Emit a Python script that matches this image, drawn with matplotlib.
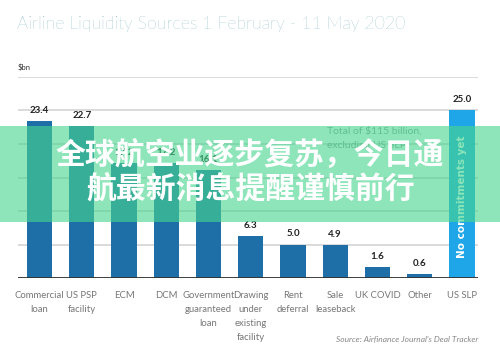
import matplotlib.pyplot as plt
from matplotlib.patches import Rectangle

categories = ["Commercial\nloan", "US PSP\nfacility", "ECM", "DCM",
              "Government\nguaranteed\nloan", "Drawing\nunder\nexisting\nfacility",
              "Rent\ndeferral", "Sale\nleaseback", "UK COVID", "Other", "US SLP"]
values = [23.4, 22.7, 17.2, 17.2, 16.1, 6.3, 5.0, 4.9, 1.6, 0.6, 25.0]
value_labels = ["23.4", "22.7", "17.2", "17.2", "16.1", "6.3", "5.0", "4.9", "1.6", "0.6", "25.0"]
bar_colors = ["#1e6fa8"] * 10 + ["#1ea6e8"]

fig = plt.figure(figsize=(5, 3.49), dpi=100)
ax = fig.add_axes([0.036, 0.2034, 0.92, 0.576])

x = list(range(len(categories)))
ax.bar(x, values, width=0.6, color=bar_colors, zorder=2)

for xi, v, lab in zip(x, values, value_labels):
    ax.text(xi, v + 0.9, lab, ha="center", va="bottom", fontsize=7,
            fontweight="bold", color="#222222", family="Lato")

ax.set_xlim(-0.51, 10.38)
ax.set_ylim(0, 30)
ax.set_yticks(range(0, 31, 5))
ax.yaxis.grid(True, color="#d4d4d4", linewidth=1.2, zorder=0)
ax.tick_params(left=False, labelleft=False, bottom=False)
for s in ax.spines.values():
    s.set_visible(False)
ax.axhline(0, color="#333333", linewidth=1.3, zorder=3)
ax.set_xticks(x)
ax.set_xticklabels(categories, fontsize=6.8, color="#777777", family="Lato",
                   linespacing=1.7)
ax.tick_params(axis="x", pad=6)

# note and bar text
ax.text(6.8, 22.6, "Total of $115 billion,\nexcluding US SLP", fontsize=7.5,
        color="#8a9a9a", family="Lato", va="top", linespacing=1.7)
ax.text(10, 12.1, "No commitments yet", rotation=90, ha="center", va="center",
        color="white", fontsize=7.5, fontweight="bold", family="DejaVu Sans")

fig.text(0.034, 0.93, "Airline Liquidity Sources 1 February - 11 May 2020",
         fontsize=12.7, color="#5a9fac", family="Lato", fontweight="light", va="center")
fig.text(0.036, 0.808, "$bn", fontsize=5.5, color="#333333", family="Lato", va="center")
fig.text(0.956, 0.031, "Source: Airfinance Journal's Deal Tracker", fontsize=6,
         color="#888888", style="italic", family="Lato", ha="right", va="center")

# banner overlay
fig.patches.append(Rectangle((0, 0.364), 1, 0.275, transform=fig.transFigure,
                             facecolor="#47d68e", alpha=0.62, zorder=5, edgecolor="none"))
cjk = ["Noto Sans CJK SC", "DejaVu Sans"]
fig.text(0.5, 0.556, "全球航空业逐步复苏，今日通", ha="center", va="center",
         fontsize=21.5, color="white", fontweight="black", family=cjk, zorder=6)
fig.text(0.502, 0.461, "航最新消息提醒谨慎前行", ha="center", va="center",
         fontsize=21.5, color="white", fontweight="black", family=cjk, zorder=6)

fig.savefig("out.png", dpi=100)
